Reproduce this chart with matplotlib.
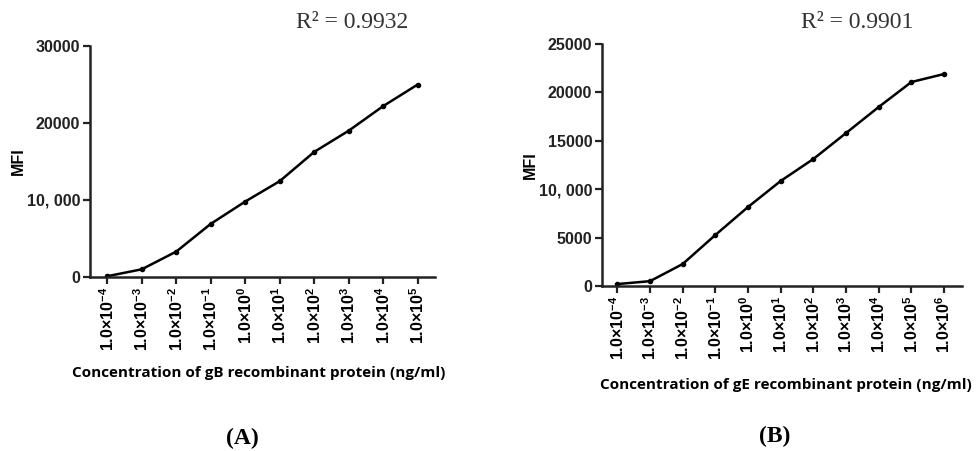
import numpy as np
import matplotlib.pyplot as plt

# data
exp_a = [-4, -3, -2, -1, 0, 1, 2, 3, 4, 5]
mfi_a = [100, 1000, 3300, 6900, 9800, 12450, 16250, 19000, 22200, 25000]
exp_b = [-4, -3, -2, -1, 0, 1, 2, 3, 4, 5, 6]
mfi_b = [200, 500, 2270, 5270, 8160, 10850, 13120, 15800, 18490, 21070, 21900]

yticks_a = [0, 10000, 20000, 30000]
ylabels_a = ['0', '10, 000', '20000', '30000']
yticks_b = [0, 5000, 10000, 15000, 20000, 25000]
ylabels_b = ['0', '5000', '10, 000', '15000', '20000', '25000']

r2_a = 'R² = 0.9932'
r2_b = 'R² = 0.9901'
xlabel_a = 'Concentration of gB recombinant protein (ng/ml)'
xlabel_b = 'Concentration of gE recombinant protein (ng/ml)'

plt.rcParams['font.family'] = ['Liberation Sans', 'DejaVu Sans']
plt.rcParams['mathtext.fontset'] = 'custom'
plt.rcParams['mathtext.bf'] = 'Liberation Sans:bold'
plt.rcParams['mathtext.rm'] = 'Liberation Sans'

W, H = 980, 451
fig = plt.figure(figsize=(W / 100, H / 100), dpi=100)


def box(x0, y0, x1, y1):
    # pixel box -> figure fraction
    return [x0 / W, 1 - y1 / H, (x1 - x0) / W, (y1 - y0) / H]


def panel(rect, exps, vals, yt, yl, ymax, xlim):
    ax = fig.add_axes(rect)
    idx = np.arange(len(exps))
    ax.plot(idx, vals, color='black', lw=1.8, marker='o', ms=3)
    ax.set_xlim(*xlim)
    ax.set_ylim(0, ymax)
    ax.set_xticks(idx)
    ax.set_xticklabels([r'$\mathbf{1.0{\times}10^{%d}}$' % e for e in exps],
                       rotation=90, fontsize=11.5)
    ax.set_yticks(yt)
    ax.set_yticklabels(yl, fontsize=11.5, fontweight='bold', color='#222222')
    for s in ['top', 'right']:
        ax.spines[s].set_visible(False)
    for s in ['left', 'bottom']:
        ax.spines[s].set_linewidth(1.8)
        ax.spines[s].set_color('#222222')
    ax.tick_params(width=1.6, length=5, color='#222222', pad=2)
    ax.set_ylabel('MFI', fontsize=11.5, fontweight='bold', labelpad=1)
    return ax


panel(box(90, 46, 435, 277), exp_a, mfi_a, yticks_a, ylabels_a, 30000, (-0.5, 9.5))
panel(box(602, 44, 962, 286), exp_b, mfi_b, yticks_b, ylabels_b, 25000, (-0.47, 10.55))

serif = 'Liberation Serif'
fig.text(352 / W, 1 - 23 / H, r2_a, family=serif, fontsize=17, color='#333333',
         ha='center', va='center')
fig.text(857 / W, 1 - 23 / H, r2_b, family=serif, fontsize=17, color='#333333',
         ha='center', va='center')

fig.text(259 / W, 1 - 373 / H, xlabel_a, family='Open Sans', fontweight='bold',
         fontsize=11, ha='center', va='center')
fig.text(786 / W, 1 - 385 / H, xlabel_b, family='Open Sans', fontweight='bold',
         fontsize=11, ha='center', va='center')

fig.text(242 / W, 1 - 438 / H, '(A)', family=serif, fontweight='bold',
         fontsize=17, ha='center', va='center')
fig.text(775 / W, 1 - 436 / H, '(B)', family=serif, fontweight='bold',
         fontsize=17, ha='center', va='center')

fig.savefig('out.png', dpi=100)
